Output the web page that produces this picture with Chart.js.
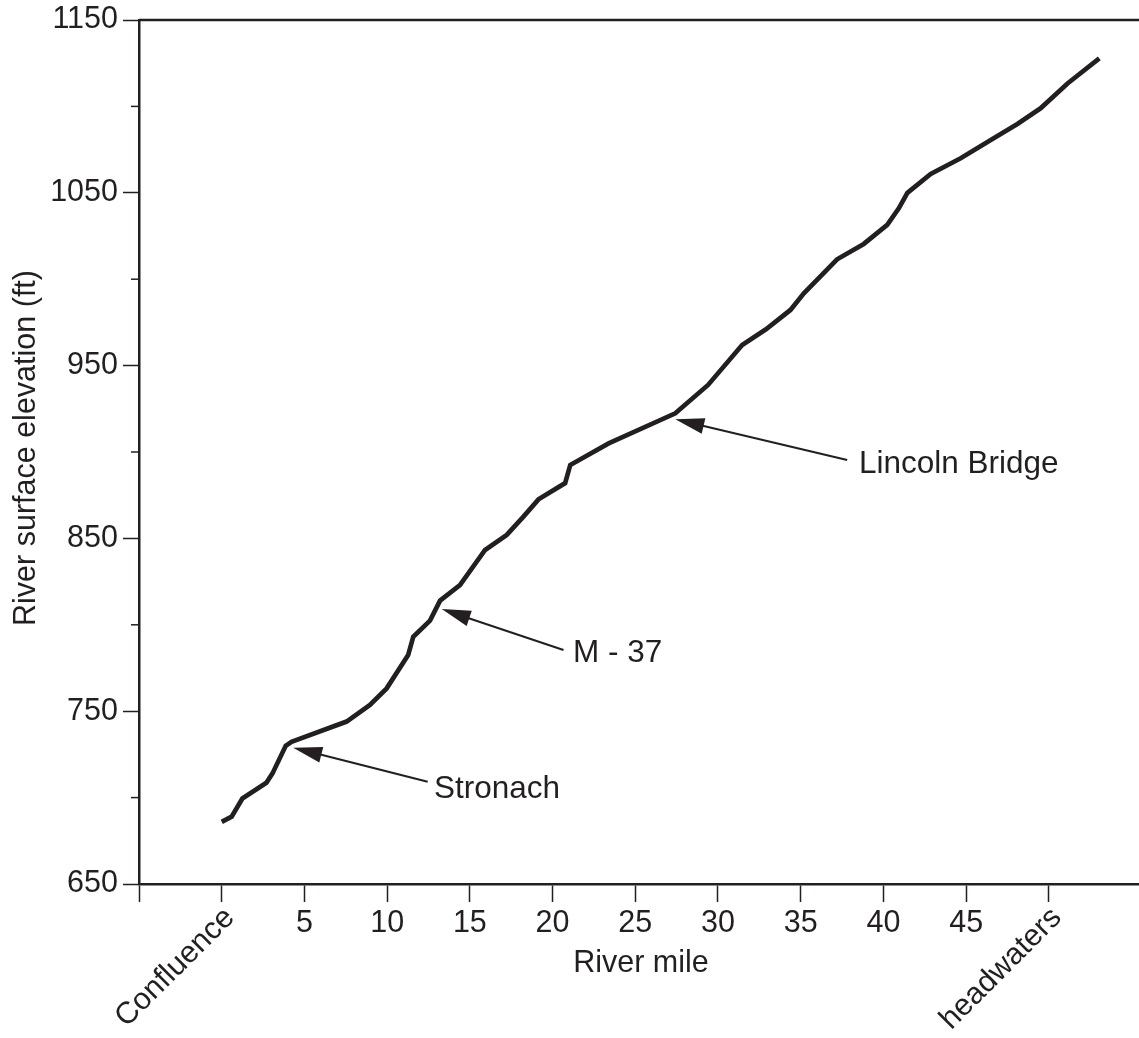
<!DOCTYPE html>
<html>
<head>
<meta charset="utf-8">
<script src="https://cdn.jsdelivr.net/npm/chart.js@4/dist/chart.umd.min.js"></script>
<style>
  html, body { margin: 0; padding: 0; background: #fff; }
  #wrap { width: 1139px; height: 1038px; position: relative; }
</style>
</head>
<body>
<div id="wrap"><canvas id="profile"></canvas></div>
<script>
// river profile
const riverMiles = [0, 0.6, 1.25, 2.7, 3.07, 3.87, 4.22, 7.55, 8.96, 9.97, 11.27, 11.58, 12.59, 13.2, 14.4,
    15.92, 17.23, 18.24, 19.15, 20.76, 21.07, 23.39, 27.42, 29.4, 31.46, 32.9, 34.38, 35.19, 37.2,
    38.81, 40.23, 40.93, 41.45, 42.86, 44.67, 46.49, 48.1, 49.5, 51.13, 53.05];
const elevations = [686, 689, 699.5, 708.6, 714, 730, 732.3, 744, 753.6, 763.2, 782.5, 793.1, 802.4, 814, 823,
    843.3, 852, 862.6, 872.6, 882, 892.5, 905, 922.4, 938.8, 961.9, 971, 982.2, 991.8, 1011.5,
    1020.4, 1031.4, 1041, 1050, 1060.9, 1070, 1080.6, 1089.8, 1098.9, 1113.3, 1127.8];

const xTickValues = [0, 5, 10, 15, 20, 25, 30, 35, 40, 45, 50];
const xTickLabels = ['Confluence', '5', '10', '15', '20', '25', '30', '35', '40', '45', 'headwaters'];
const yTickLabels = [650, 750, 850, 950, 1050, 1150];

const callouts = [
    { text: 'Stronach', head: [4.32, 728.9], tail: [12.45, 709.2], label: [12.83, 700] },
    { text: 'M - 37', head: [13.3, 809.1], tail: [20.66, 785.4], label: [21.23, 778.6] },
    { text: 'Lincoln Bridge', head: [27.42, 918.9], tail: [37.81, 895.4], label: [38.52, 888] }
];

const ink = '#231f20';
const fontFamily = "'Liberation Sans', Arial, Helvetica, sans-serif";

function drawArrow(ctx, x1, y1, x2, y2) {
    const a = Math.atan2(y2 - y1, x2 - x1);
    const len = 29, half = 8;
    const bx = x2 - len * Math.cos(a), by = y2 - len * Math.sin(a);
    ctx.beginPath();
    ctx.moveTo(x1, y1);
    ctx.lineTo(bx + 2 * Math.cos(a), by + 2 * Math.sin(a));
    ctx.stroke();
    ctx.beginPath();
    ctx.moveTo(x2, y2);
    ctx.lineTo(bx + half * Math.sin(a), by - half * Math.cos(a));
    ctx.lineTo(bx - half * Math.sin(a), by + half * Math.cos(a));
    ctx.closePath();
    ctx.fill();
}

const decor = {
    id: 'decor',
    afterDraw(chart) {
        const ctx = chart.ctx;
        const area = chart.chartArea;
        const xs = chart.scales.x, ys = chart.scales.y;
        ctx.save();
        ctx.strokeStyle = ink;
        ctx.fillStyle = ink;

        // top frame line
        ctx.lineWidth = 2.5;
        ctx.beginPath();
        ctx.moveTo(area.left, area.top);
        ctx.lineTo(area.right, area.top);
        ctx.stroke();

        // minor y ticks
        ctx.lineWidth = 1.5;
        for (let v = 700; v < 1150; v += 100) {
            const y = ys.getPixelForValue(v);
            ctx.beginPath();
            ctx.moveTo(area.left - 8, y);
            ctx.lineTo(area.left, y);
            ctx.stroke();
        }

        // x tick labels
        ctx.font = '30.5px ' + fontFamily;
        xTickValues.forEach((v, i) => {
            const x = xs.getPixelForValue(v);
            const label = xTickLabels[i];
            if (isNaN(Number(label))) {
                ctx.save();
                ctx.translate(x + 8, 913);
                ctx.rotate(-Math.PI / 4);
                ctx.textAlign = 'right';
                ctx.textBaseline = 'middle';
                ctx.fillText(label, 0, 0);
                ctx.restore();
            } else {
                ctx.textAlign = 'center';
                ctx.textBaseline = 'alphabetic';
                ctx.fillText(label, x, 932);
            }
        });

        // axis titles
        ctx.textAlign = 'center';
        ctx.textBaseline = 'alphabetic';
        ctx.fillText('River mile', (area.left + area.right) / 2 + 2, 972);
        ctx.save();
        ctx.translate(35, (area.top + area.bottom) / 2 - 4);
        ctx.rotate(-Math.PI / 2);
        ctx.fillText('River surface elevation (ft)', 0, 0);
        ctx.restore();

        // callouts
        ctx.font = '31.5px ' + fontFamily;
        ctx.lineWidth = 2;
        ctx.textAlign = 'left';
        callouts.forEach(c => {
            drawArrow(ctx,
                xs.getPixelForValue(c.tail[0]), ys.getPixelForValue(c.tail[1]),
                xs.getPixelForValue(c.head[0]), ys.getPixelForValue(c.head[1]));
            ctx.fillText(c.text, xs.getPixelForValue(c.label[0]), ys.getPixelForValue(c.label[1]));
        });
        ctx.restore();
    }
};

const ctx = document.getElementById('profile').getContext('2d');
new Chart(ctx, {
    type: 'line',
    data: {
        datasets: [{
            data: riverMiles.map((m, i) => ({ x: m, y: elevations[i] })),
            borderColor: ink,
            borderWidth: 4.7,
            pointRadius: 0,
            tension: 0,
            fill: false
        }]
    },
    options: {
        responsive: true,
        maintainAspectRatio: false,
        animation: false,
        layout: { padding: { top: 20, right: 0, left: 0, bottom: 0 } },
        plugins: {
            legend: { display: false },
            tooltip: { enabled: false }
        },
        scales: {
            x: {
                type: 'linear',
                min: -5,
                max: 55.45,
                ticks: { stepSize: 5, includeBounds: false, display: false },
                grid: {
                    drawOnChartArea: false,
                    tickLength: 18,
                    tickWidth: 1.5,
                    tickColor: c => (c.tick && c.tick.value > 50) ? 'rgba(0,0,0,0)' : ink
                },
                border: { display: true, color: ink, width: 2.5 },
                afterFit(scale) {
                    scale.height = 154;
                    scale.paddingLeft = 0;
                    scale.paddingRight = 0;
                }
            },
            y: {
                min: 650,
                max: 1150,
                ticks: {
                    stepSize: 50,
                    autoSkip: false,
                    padding: 5,
                    color: ink,
                    font: { family: fontFamily, size: 30.5 },
                    callback: v => yTickLabels.includes(v) ? String(v) : ''
                },
                grid: {
                    drawOnChartArea: false,
                    tickLength: 16,
                    tickWidth: 1.5,
                    tickColor: c => (c.tick && yTickLabels.includes(c.tick.value)) ? ink : 'rgba(0,0,0,0)'
                },
                border: { display: true, color: ink, width: 2.5 },
                afterFit(scale) {
                    scale.width = 139;
                    scale.paddingTop = 0;
                    scale.paddingBottom = 0;
                }
            }
        }
    },
    plugins: [decor]
});
</script>
</body>
</html>
